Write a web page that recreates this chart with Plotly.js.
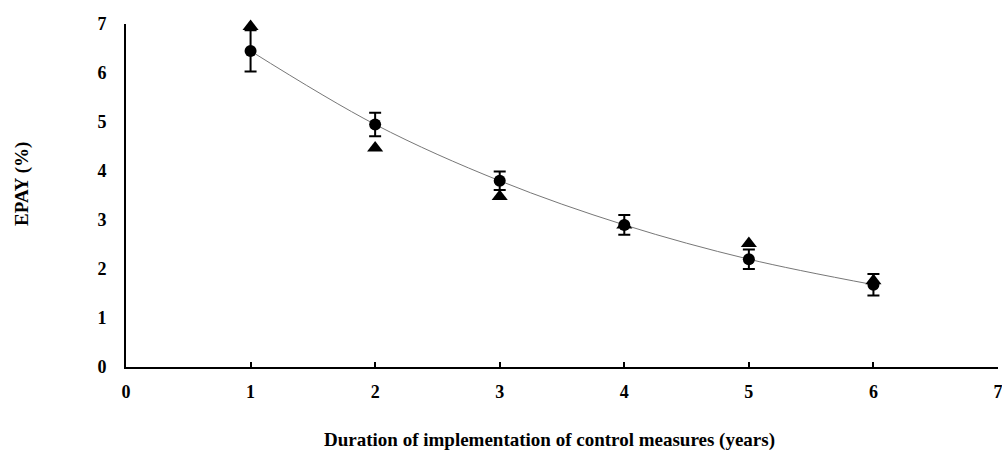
<!DOCTYPE html>
<html>
<head>
<meta charset="utf-8">
<script src="https://cdn.plot.ly/plotly-3.0.1.min.js"></script>
<style>html,body{margin:0;padding:0;background:#fff;}#chart{width:1002px;height:450px;}</style>
</head>
<body>
<div id="chart"></div>
<script>
var years = [1, 2, 3, 4, 5, 6];
var observed = [6.45, 4.95, 3.80, 2.90, 2.20, 1.68];
var observedErr = [0.42, 0.24, 0.19, 0.20, 0.20, 0.22];
var predicted = [6.95, 4.47, 3.48, 2.90, 2.52, 1.76];
var xTicks = [0, 1, 2, 3, 4, 5, 6, 7];
var yTicks = [0, 1, 2, 3, 4, 5, 6, 7];
var xTitle = 'Duration of implementation of control measures (years)';
var yTitle = 'EPAY (%)';

var fontFam = 'Liberation Serif, Times New Roman, serif';

var traces = [
  {
    x: years, y: observed, mode: 'lines', type: 'scatter',
    line: {shape: 'spline', color: '#777', width: 1},
    hoverinfo: 'skip', showlegend: false, cliponaxis: false
  },
  {
    x: years, y: observed, mode: 'markers', type: 'scatter',
    marker: {symbol: 'circle', size: 12, color: '#000'},
    error_y: {type: 'data', array: observedErr, visible: true, color: '#000', thickness: 2, width: 6},
    showlegend: false, cliponaxis: false
  },
  {
    x: years, y: predicted, mode: 'markers', type: 'scatter',
    marker: {symbol: 'triangle-up', size: 14, color: '#000'},
    showlegend: false, cliponaxis: false
  }
];

var layout = {
  width: 1002, height: 450,
  margin: {l: 126, r: 4, t: 24, b: 83},
  paper_bgcolor: '#fff', plot_bgcolor: '#fff',
  font: {family: fontFam, color: '#000'},
  xaxis: {
    range: [0, 7], tickvals: xTicks, ticktext: xTicks.map(String),
    showline: true, linecolor: '#000', linewidth: 2,
    ticks: 'inside', ticklen: 5, tickwidth: 2, tickcolor: '#000',
    ticklabelstandoff: 7, ticklabeloverflow: 'allow',
    showgrid: false, zeroline: false,
    tickfont: {family: fontFam, size: 18, color: '#000', weight: 'bold'}
  },
  yaxis: {
    range: [0, 7], tickvals: yTicks, ticktext: yTicks.map(String),
    showline: true, linecolor: '#000', linewidth: 2,
    ticks: 'outside', ticklen: 14, tickcolor: 'rgba(0,0,0,0)',
    showgrid: false, zeroline: false,
    tickfont: {family: fontFam, size: 18, color: '#000', weight: 'bold'}
  },
  annotations: [
    {text: '<b>' + xTitle + '</b>', xref: 'paper', yref: 'paper', x: 0.486, y: -0.213,
     xanchor: 'center', yanchor: 'middle', showarrow: false,
     font: {family: fontFam, size: 19, color: '#000'}},
    {text: '<b>' + yTitle + '</b>', xref: 'paper', yref: 'paper', x: -0.1193, y: 0.5335,
     xanchor: 'center', yanchor: 'middle', showarrow: false, textangle: -90,
     font: {family: fontFam, size: 19, color: '#000'}}
  ]
};

Plotly.newPlot('chart', traces, layout, {displayModeBar: false, staticPlot: true});
</script>
</body>
</html>
